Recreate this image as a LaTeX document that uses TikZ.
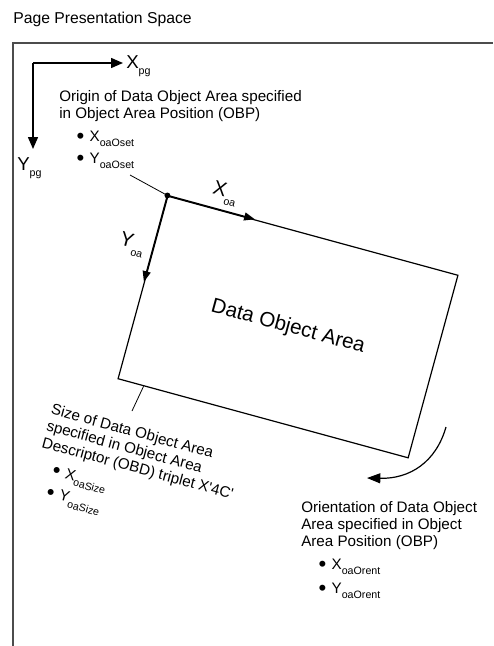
\documentclass[tikz,border=0pt]{standalone}
\usepackage{fontspec}
\setmainfont{Liberation Sans}
\usepackage{tikz}
\usetikzlibrary{arrows.meta}
\usetikzlibrary{calc}
\newcommand{\sbs}[1]{\raisebox{-0.35em}{\fontsize{8}{9}\selectfont #1}}
\newcommand{\bitem}{\hspace{13pt}\raisebox{-0.15em}{\scalebox{1.45}{\textbullet}}\hspace{4pt}}

\begin{document}
\begin{tikzpicture}
	[x=0.75pt, y=-0.75pt, font=\fontsize{11.4}{12.9}\selectfont,
	frame/.style = {draw=black!70, line width=1.1pt},
	axis/.style = {line width=1.1pt, -{Triangle[length=9pt,width=7.5pt]}},
	oaaxis/.style = {line width=1.1pt, -{Triangle[length=8pt,width=6pt]}},
	turn/.style = {line width=0.9pt, -{Triangle[length=10pt,width=7.5pt]}},
	txt/.style = {align=left, inner sep=0pt},
	big/.style = {inner sep=0pt, font=\fontsize{14}{16}\selectfont},
	lead/.style = {line width=0.6pt}]
	\useasboundingbox (0,0) rectangle (493,646);
	\node[txt, anchor=base west, font=\fontsize{11.8}{13}\selectfont] (title) at (13,23) {Page Presentation Space};
	\draw[frame] (13,646) -- (13,43) -- (493,43);
	% page axes
	\coordinate (pg) at (33,63);
	\coordinate (pgx) at (123,63);
	\coordinate (pgy) at (33,149);
	\node[big, anchor=west] (xpg) at (126,66) {X\sbs{pg}};
	\node[big, anchor=north west] (ypg) at (17,157) {Y\sbs{pg}};
	\draw[axis] (pg) -- (pgx);
	\draw[axis] (pg) -- (pgy);
	\node[txt, anchor=north west] (orgtxt) at (59,90)
		{Origin of Data Object Area specified\\in Object Area Position (OBP)\\[4pt]
		\bitem X\sbs{oaOset}\\[4pt]\bitem Y\sbs{oaOset}};
	% data object area
	\node[draw, line width=0.9pt, rotate=-15.25, minimum width=225.5pt, minimum height=141.9pt,
		inner sep=0pt, font=\fontsize{15.5}{18}\selectfont] (doa) at (288,327) {Data Object Area};
	\coordinate (oset) at (130,175);
	\draw[lead] (oset) -- (doa.north west);
	\fill (doa.north west) circle (2.2pt);
	\coordinate (xoa) at ($(doa.north west)!0.3!(doa.north east)$);
	\coordinate (yoa) at ($(doa.north west)!0.47!(doa.south west)$);
	\draw[oaaxis] (doa.north west) -- (xoa);
	\draw[oaaxis] (doa.north west) -- (yoa);
	\node[big, rotate=-15.25, font=\fontsize{15}{17}\selectfont] (xoal) at (225,194) {X\sbs{oa}};
	\node[big, rotate=-15.25, font=\fontsize{15}{17}\selectfont] (yoal) at (132,245) {Y\sbs{oa}};
	% size
	\coordinate (sizept) at ($(doa.south west)!0.09!(doa.south east)$);
	\coordinate (sizeend) at (132,411);
	\draw[lead] (sizept) -- (sizeend);
	\node[txt, rotate=-15.25, anchor=north west] (sizetxt) at (53,403)
		{Size of Data Object Area\\specified in Object Area\\Descriptor (OBD) triplet X\textquotesingle4C\textquotesingle\\[5pt]
		\bitem X\sbs{oaSize}\\[4pt]\bitem Y\sbs{oaSize}};
	% orientation
	\coordinate (rotst) at (446,427);
	\coordinate (rotend) at (367,478);
	\draw[turn] (rotst) .. controls (436,462) and (410,479) .. (rotend);
	\node[txt, anchor=north west] (orntxt) at (301,501)
		{Orientation of Data Object\\Area specified in Object\\Area Position (OBP)\\[4pt]
		\bitem X\sbs{oaOrent}\\[5pt]\bitem Y\sbs{oaOrent}};
\end{tikzpicture}
\end{document}
